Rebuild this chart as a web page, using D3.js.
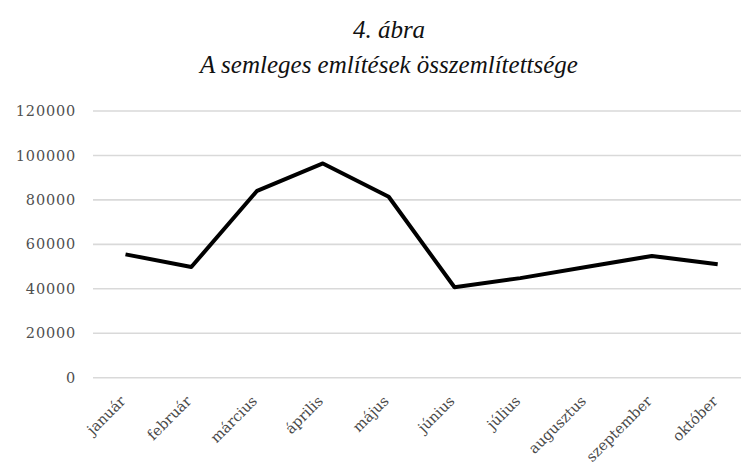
<!DOCTYPE html>
<html>
<head>
<meta charset="utf-8">
<script src="https://cdn.jsdelivr.net/npm/d3@7"></script>
<style>
  body { margin: 0; background: #fff; }
  svg { display: block; }
</style>
</head>
<body>
<div id="chart"></div>
<script>
const months = ["január", "február", "március", "április", "május", "június", "július", "augusztus", "szeptember", "október"];
const mentions = [55500, 49800, 84100, 96400, 81400, 40700, 44800, 49800, 54800, 51000];
const yTicks = [0, 20000, 40000, 60000, 80000, 100000, 120000];

const width = 741;
const height = 466;

const svg = d3.select("#chart").append("svg").attr("width", width).attr("height", height);

// plot runs past the right edge of the picture, like the original crop
const x_scale = d3.scalePoint()
    .domain(months)
    .range([92.6, 750.6])
    .padding(0.5);

const y_scale = d3.scaleLinear()
    .domain([0, 120000])
    .range([377.7, 111]);

// gridlines
svg.append("g")
    .selectAll("line")
    .data(yTicks)
    .enter()
    .append("line")
    .attr("x1", 93)
    .attr("x2", width)
    .attr("y1", d => y_scale(d))
    .attr("y2", d => y_scale(d))
    .attr("stroke", "#d9d9d9")
    .attr("stroke-width", 1.6);

// y labels
svg.append("g")
    .selectAll("text")
    .data(yTicks)
    .enter()
    .append("text")
    .attr("x", 76)
    .attr("y", d => y_scale(d))
    .attr("dy", "0.35em")
    .attr("text-anchor", "end")
    .style("font-family", "'DejaVu Serif', serif")
    .style("font-size", "14.5px")
    .style("letter-spacing", "0.8px")
    .attr("fill", "#505050")
    .text(d => d);

// x labels (szeptember runs off the bottom, as in the original)
svg.append("g")
    .selectAll("text")
    .data(months)
    .enter()
    .append("text")
    .attr("transform", d => `translate(${x_scale(d) + 1},402) rotate(-45)`)
    .attr("text-anchor", "end")
    .style("font-family", "'DejaVu Serif', serif")
    .style("font-size", "14.5px")
    .attr("fill", "#4a4a4a")
    .text(d => d);

const line = d3.line()
    .x((d, i) => x_scale(months[i]))
    .y(d => y_scale(d));

svg.append("path")
    .datum(mentions)
    .attr("fill", "none")
    .attr("stroke", "#000")
    .attr("stroke-width", 4)
    .attr("stroke-linejoin", "round")
    .attr("d", line);

// title
svg.append("text")
    .attr("x", 389)
    .attr("y", 38)
    .attr("text-anchor", "middle")
    .style("font-family", "'Liberation Serif', serif")
    .style("font-style", "italic")
    .style("font-size", "25px")
    .attr("fill", "#111")
    .text("4. ábra");

svg.append("text")
    .attr("x", 389)
    .attr("y", 73)
    .attr("text-anchor", "middle")
    .style("font-family", "'Liberation Serif', serif")
    .style("font-style", "italic")
    .style("font-size", "25px")
    .attr("fill", "#111")
    .text("A semleges említések összemlítettsége");
</script>
</body>
</html>
